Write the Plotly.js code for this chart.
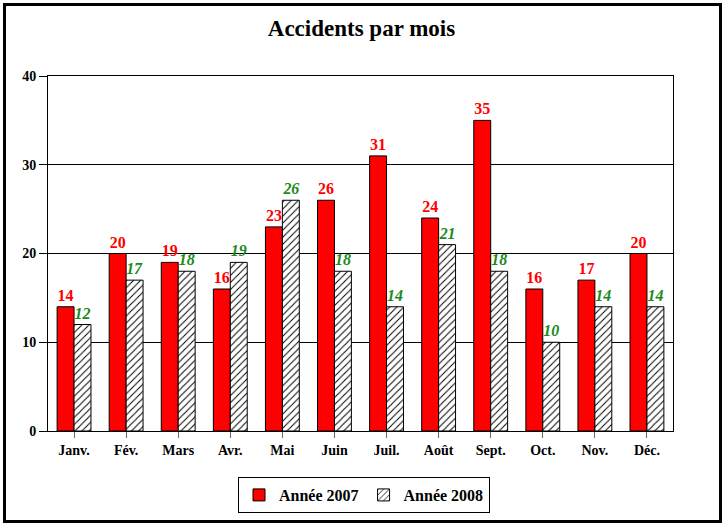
<!DOCTYPE html>
<html><head><meta charset="utf-8">
<script src="https://cdn.plot.ly/plotly-3.0.1.min.js"></script>
<style>
body{margin:0;background:#fff;}
#wrap{position:relative;width:723px;height:524px;}
#chart{position:absolute;left:0;top:0;width:723px;height:524px;}
#frame{position:absolute;left:3px;top:3px;width:713px;height:514px;border:3px solid #000;pointer-events:none;}
</style></head>
<body>
<div id="wrap"><div id="chart"></div><div id="frame"></div></div>
<script>
const months = ["Janv.","Fév.","Mars","Avr.","Mai","Juin","Juil.","Août","Sept.","Oct.","Nov.","Déc."];
const y2007 = [14,20,19,16,23,26,31,24,35,16,17,20];
const y2008 = [12,17,18,19,26,18,14,21,18,10,14,14];
const font = "'Liberation Serif','Times New Roman',serif";

const t1 = {
  type:'bar', name:'Année 2007', x:months, y:y2007,
  text:y2007.map(String), textposition:'outside', cliponaxis:false,
  textfont:{family:font,size:16,color:'#ff0000',weight:'bold'},
  marker:{color:'#ff0000',line:{color:'#000',width:1}}
};
const t2 = {
  type:'bar', name:'Année 2008', x:months, y:y2008,
  text:y2008.map(String), textposition:'outside', cliponaxis:false,
  textfont:{family:font,size:16,color:'#1a8a1a',weight:'bold',style:'italic'},
  marker:{color:'#fff',line:{color:'#000',width:1},
    pattern:{shape:'/',fgcolor:'#000',bgcolor:'#fff',size:5,solidity:0.2}}
};
const layout = {
  width:723,height:524,
  margin:{l:48,r:50,t:76,b:92},
  paper_bgcolor:'#fff',plot_bgcolor:'#fff',
  font:{family:font,color:'#000'},
  title:{text:'<b>Accidents par mois</b>',font:{family:font,size:23,color:'#000'},x:0.5,xanchor:'center',y:0.947,yanchor:'middle'},
  barmode:'group',bargap:0.35,bargroupgap:0,
  xaxis:{showline:true,linecolor:'#000',linewidth:1,mirror:true,ticks:'outside',ticklen:6,tickcolor:'#666',
    tickfont:{family:font,size:14,color:'#000',weight:'bold'},showgrid:false},
  yaxis:{range:[0,40],dtick:10,showline:true,linecolor:'#000',linewidth:1,mirror:true,ticks:'outside',ticklen:8,tickcolor:'#000',
    showgrid:true,gridcolor:'#000',gridwidth:1,zeroline:false,
    tickfont:{family:font,size:14,color:'#000',weight:'bold'}},
  showlegend:true,
  legend:{orientation:'h',x:0.5056,xanchor:'center',y:-0.177,yanchor:'middle',
    bordercolor:'#000',borderwidth:1,bgcolor:'#fff',
    font:{family:font,size:16,color:'#000',weight:'bold'},itemwidth:30}
};
Plotly.newPlot('chart',[t1,t2],layout,{displayModeBar:false,staticPlot:true});
</script>
</body></html>
